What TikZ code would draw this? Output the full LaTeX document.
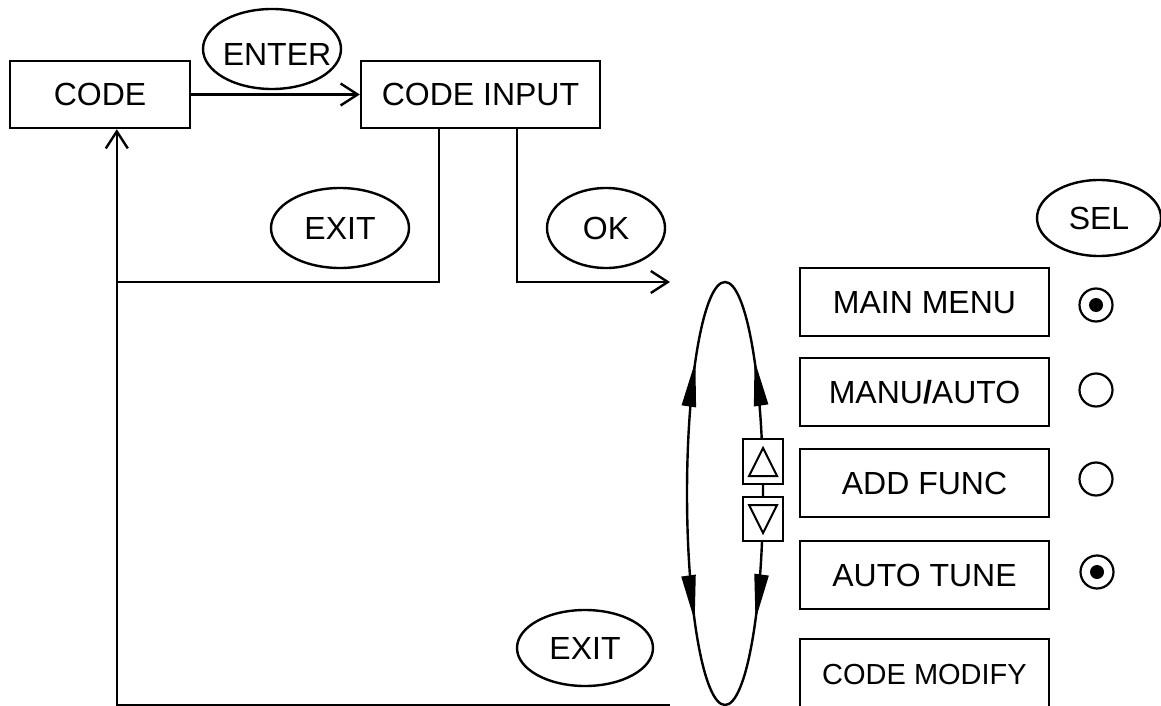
\documentclass[tikz,border=0pt]{standalone}
\usepackage{fontspec}
\setmainfont{Liberation Sans}
\usetikzlibrary{arrows.meta,decorations.markings,positioning,calc}

\begin{document}
\begin{tikzpicture}[x=1pt,y=-1pt,line width=2.4pt,
    txt/.style={font=\fontsize{32}{38}\selectfont,text height=23pt,text depth=0pt,inner sep=0pt},
    codebox/.style={txt,draw,rectangle,minimum height=67pt},
    menubox/.style={txt,draw,rectangle,minimum width=249pt,minimum height=68pt},
    radio/.style={draw,circle,line width=2.2pt,minimum size=33pt,inner sep=0pt},
    arrowkey/.style={draw,fill=white,rectangle,line width=2pt,minimum width=40pt,inner sep=0pt},
    flow/.style={-{Straight Barb[length=17pt,width=22pt]}},
    looptip/.tip={Triangle[length=46pt,width=14pt]},
    ]
    \useasboundingbox (0,0) rectangle (1161,706);

    % sizes of the up/down loop
    \pgfmathsetmacro{\loopRx}{38}
    \pgfmathsetmacro{\loopRy}{211.5}

    \node[codebox,minimum width=180pt] (code) at (100,94.5) {CODE};
    \node[codebox,minimum width=239pt] (input) at (480.5,94.5) {CODE INPUT};

    \node[txt] (enter) at (277,54) {ENTER};
    \draw ([shift={(-5,-5)}]enter.center) ellipse [x radius=69, y radius=40];
    \node[txt] (exitA) at (340,228) {EXIT};
    \draw (exitA.center) ellipse [x radius=69, y radius=40];
    \node[txt] (ok) at (606,228) {OK};
    \draw (ok.center) ellipse [x radius=59, y radius=40];
    \node[txt] (sel) at (1099,218) {SEL};
    \draw (sel.center) ellipse [x radius=62, y radius=38];
    \node[txt] (exitB) at (585,648) {EXIT};
    \draw (exitB.center) ellipse [x radius=68, y radius=38];

    \coordinate (exitjoin) at (118,282);
    \coordinate (okend) at (670,282);
    \coordinate (backend) at (670,705);

    \draw[flow] (code) -- (input);
    \draw ([xshift=79pt]input.south west) |- (exitjoin);
    \draw[flow] ([xshift=157pt]input.south west) |- (okend);
    \draw[flow] (backend) -| ([xshift=108pt]code.south west);

    % menu entries
    \node[menubox] (mainmenu) at (924.5,302) {MAIN MENU};
    \node[menubox,below=19.6pt of mainmenu] (manuauto) {MANU\textbf{/}AUTO};
    \node[menubox,below=20.6pt of manuauto] (addfunc) {ADD FUNC};
    \node[menubox,below=21.6pt of addfunc] (autotune) {AUTO TUNE};
    \node[menubox,below=27.6pt of autotune,font=\fontsize{29}{34}\selectfont] (codemod) {CODE MODIFY};

    \node[radio] (rmain) at (1096,305) {};
    \node[radio] (rmanu) at (1096,390) {};
    \node[radio] (radd) at (1096,479) {};
    \node[radio] (rauto) at (1097,572) {};
    \fill (rmain.center) circle[radius=7];
    \fill (rauto.center) circle[radius=7];

    % scroll loop with arrows
    \coordinate (loopc) at (725,493.5);
    \draw[postaction={decorate},decoration={markings,
        mark=at position 127pt with {\arrow{looptip}},
        mark=at position 313pt with {\arrowreversed{looptip}},
        mark=at position 574pt with {\arrow{looptip}},
        mark=at position 748pt with {\arrowreversed{looptip}}}]
        (loopc) ellipse [x radius=\loopRx, y radius=\loopRy];

    \node[arrowkey,minimum height=45pt] (upkey) at (763,461.5) {};
    \node[arrowkey,minimum height=44pt] (downkey) at (763,519) {};
    \draw[line width=2pt] ([shift={(-14,14.5)}]upkey.center) -- ([shift={(0,-13.5)}]upkey.center)
        -- ([shift={(14,14.5)}]upkey.center) -- cycle;
    \draw[line width=2pt] ([shift={(-14,-14)}]downkey.center) -- ([shift={(0,14)}]downkey.center)
        -- ([shift={(14,-14)}]downkey.center) -- cycle;

\end{tikzpicture}
\end{document}
